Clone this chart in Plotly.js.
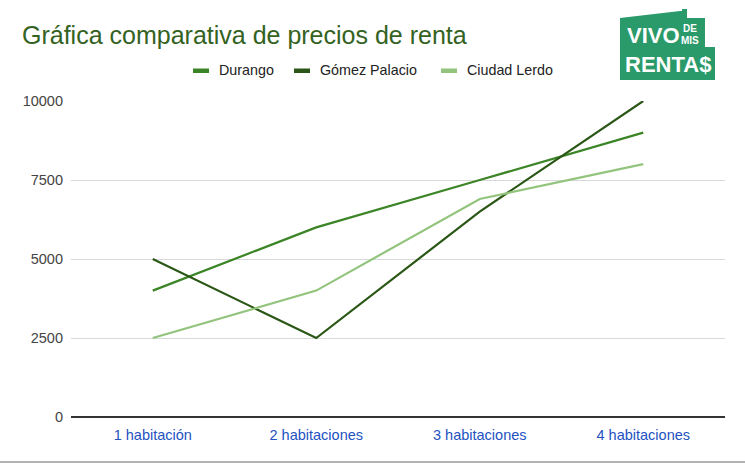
<!DOCTYPE html>
<html>
<head>
<meta charset="utf-8">
<script src="https://cdn.plot.ly/plotly-3.0.1.min.js"></script>
<style>html,body{margin:0;padding:0;background:#fff;}#chart{width:745px;height:471px;}</style>
</head>
<body>
<div id="chart"></div>
<script>
const categories = ["1 habitación", "2 habitaciones", "3 habitaciones", "4 habitaciones"];
const seriesNames = ["Durango", "Gómez Palacio", "Ciudad Lerdo"];
const durango = [4000, 6000, 7500, 9000];
const gomezPalacio = [5000, 2500, 6500, 10000];
const ciudadLerdo = [2500, 4000, 6900, 8000];
const yTicks = [0, 2500, 5000, 7500, 10000];
const titleText = "Gráfica comparativa de precios de renta";
const colors = ["#3b8527", "#2b5716", "#93c47d"];

const W = 745, H = 471;
const L = 71, R = 725, T = 101, B = 417;
const px = x => (x - L) / (R - L);
const py = y => (B - y) / (B - T);
const FONT = "Arial, Liberation Sans, sans-serif";

const values = [durango, gomezPalacio, ciudadLerdo];
const traces = values.map((v, i) => ({
  x: categories, y: v, type: "scatter", mode: "lines", name: seriesNames[i],
  line: {color: colors[i], width: 2.2}, showlegend: false, hoverinfo: "skip"
}));

// manual legend
const legendX = [193, 294, 441];
const shapes = [];
const annotations = [];
seriesNames.forEach((n, i) => {
  shapes.push({type: "rect", xref: "paper", yref: "paper",
    x0: px(legendX[i]), x1: px(legendX[i] + 16), y0: py(73), y1: py(68.5),
    fillcolor: colors[i], line: {width: 0}});
  annotations.push({xref: "paper", yref: "paper", x: px(legendX[i] + 24), y: py(70.5),
    xanchor: "left", yanchor: "middle", showarrow: false, text: n,
    font: {family: FONT, size: 14.3, color: "#222"}});
});

// logo
const logoPts = [[620,18],[680,11],[682,11],[682,9],[687,9],[687,18],[705,18],[705,47],[715,47],[715,80],[620,80]];
let path = "M " + logoPts.map(p => px(p[0]).toFixed(4) + "," + py(p[1]).toFixed(4)).join(" L ") + " Z";
shapes.push({type: "path", xref: "paper", yref: "paper", path: path, fillcolor: "#2a9a6a", line: {width: 0}, layer: "above"});
annotations.push({xref:"paper", yref:"paper", x: px(653), y: py(35), showarrow:false, text:"<b>VIVO</b>",
  font:{family: FONT, size: 22, color:"#fff"}, xanchor:"center", yanchor:"middle"});
annotations.push({xref:"paper", yref:"paper", x: px(690), y: py(28), showarrow:false, text:"<b>DE</b>",
  font:{family: FONT, size: 10, color:"#fff"}, xanchor:"center", yanchor:"middle"});
annotations.push({xref:"paper", yref:"paper", x: px(690), y: py(40), showarrow:false, text:"<b>MIS</b>",
  font:{family: FONT, size: 10, color:"#fff"}, xanchor:"center", yanchor:"middle"});
annotations.push({xref:"paper", yref:"paper", x: px(668), y: py(64), showarrow:false, text:"<b>RENTA$</b>",
  font:{family: FONT, size: 22, color:"#fff"}, xanchor:"center", yanchor:"middle"});

// bottom spreadsheet border
shapes.push({type:"line", xref:"paper", yref:"paper", x0: px(0), x1: px(745), y0: py(462), y1: py(462), line:{color:"#999", width:1.5}});

const layout = {
  width: W, height: H,
  margin: {l: L, r: W - R, t: T, b: H - B, pad: 0},
  paper_bgcolor: "#fff", plot_bgcolor: "#fff",
  title: {text: titleText, xref: "container", yref: "container", x: 22 / W, xanchor: "left",
    y: 1 - 35 / H, yanchor: "middle",
    font: {family: FONT, size: 25, color: "#34621f"}},
  xaxis: {type: "category", range: [-0.5, 3.5], showgrid: false, zeroline: false, showline: false,
    ticks: "", ticklabelstandoff: 7,
    tickfont: {family: FONT, size: 14.5, color: "#2352bf"}},
  yaxis: {range: [0, 10000], tickvals: yTicks, ticktext: yTicks.map(String),
    showgrid: true, gridcolor: "#d9d9d9", gridwidth: 1,
    zeroline: true, zerolinecolor: "#333", zerolinewidth: 1.5, showline: false,
    ticks: "", ticklabelstandoff: 7,
    tickfont: {family: FONT, size: 14.5, color: "#444"}},
  shapes: shapes, annotations: annotations, showlegend: false
};

Plotly.newPlot("chart", traces, layout, {staticPlot: true, displayModeBar: false});
</script>
</body>
</html>
